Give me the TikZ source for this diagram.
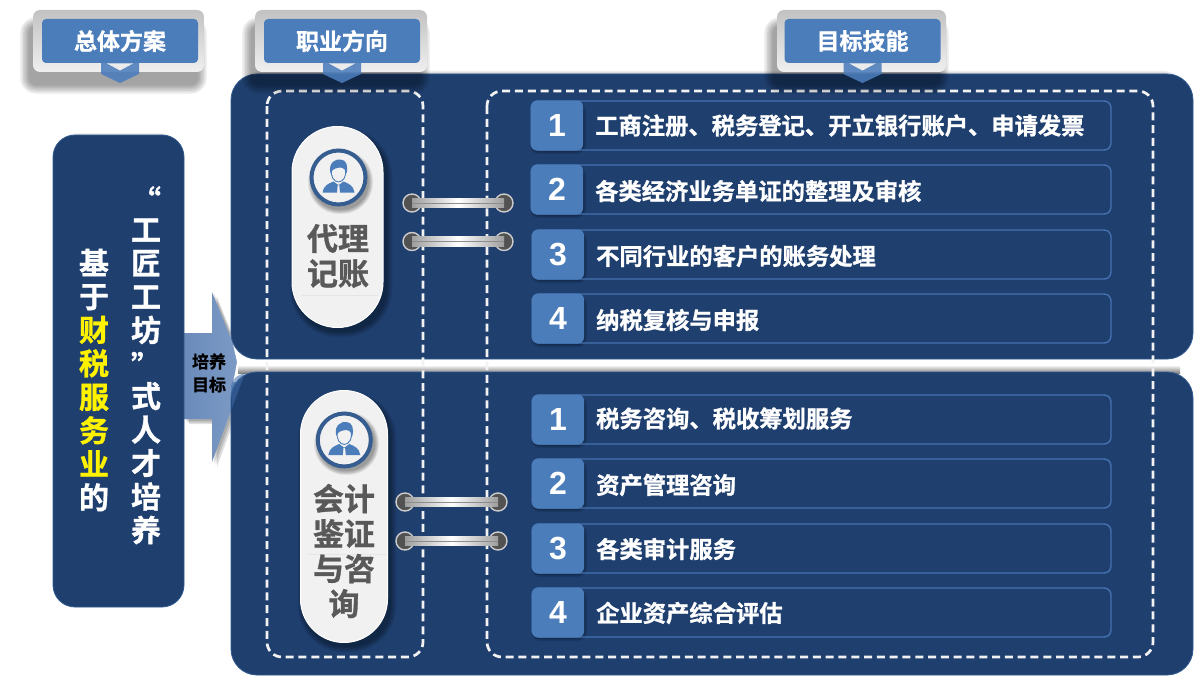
\documentclass[tikz,border=0pt]{standalone}
\usepackage{fontspec}
\setmainfont{Noto Sans CJK SC}[BoldFont={Noto Sans CJK SC Bold},BoldFeatures={FakeBold=1}]
\newfontfamily\numfont{Liberation Sans}
\usetikzlibrary{calc,shapes.misc}
\definecolor{navy}{HTML}{1F3F6F}
\definecolor{steel}{HTML}{4C7DBB}
\definecolor{edgeblue}{HTML}{3F6DA8}
\definecolor{rowedge}{HTML}{4472B0}
\definecolor{pillgray}{HTML}{F1F1F1}
\definecolor{ink}{HTML}{595959}
\definecolor{arrowL}{HTML}{6A8BBA}
\definecolor{arrowR}{HTML}{7F9CC6}
\newcommand{\softshade}[6]{% x1 y1 x2 y2 r step
  \foreach \k in {1,...,7}{
    \fill[black,opacity=0.06,rounded corners={#5+(8-\k)*#6}]
      ({#1-(8-\k)*#6},{#2-(8-\k)*#6}) rectangle ({#3+(8-\k)*#6},{#4+(8-\k)*#6});
  }}
\newcommand{\headerbtn}[5]{% name frame-x1 frame-x2 tile-centre text
  \softshade{#2-3}{27}{#3-7}{84}{6}{1.4}
  \path[rounded corners=7,top color=black!24,bottom color=black!6] (#2,10) rectangle (#3,72);
  \node[headtile] (#1) at (#4,41) {#5};
  \fill[steel,opacity=.88] ({#4-19},63) -- ({#4+19},63) -- ({#4+19},74) -- (#4,83) -- ({#4-19},74) -- cycle;
  \fill[black!8] ({#4-13},63.5) -- ({#4+13},63.5) -- (#4,70.5) -- cycle;
}
\newcommand{\itemrow}[6]{% name xleft ytop number text text-dy
  \softshade{#2+3}{#3+5}{#2+51}{#3+49}{5}{.6}
  \draw[rowedge,line width=1.4,rounded corners=7] (#2,#3) rectangle (1111,#3+49);
  \node[numtile] (#1n) at ({#2+26},{#3+24.5}) {#4};
  \node[itemtext] (#1t) at ({#2+64},{#3+26+#6}) {#5};
}
\newcommand{\personicon}[2]{% cx cy
  \begin{scope}[shift={(#1,#2)}]
    \fill[steel] (-16,15) .. controls (-15,8) and (-10,6) .. (-5,4) -- (-1,7) -- (1,7) -- (5,4) .. controls (10,6) and (15,8) .. (16,15) -- (1.5,15) -- (0.8,7.5) -- (-0.8,7.5) -- (-1.5,15) -- cycle;
    \draw[steel,line width=.9] (-7,-8) .. controls (-8,-1) and (-5,4) .. (0,4.5) .. controls (5,4) and (8,-1) .. (7,-8);
    \fill[steel] (-8,-4) .. controls (-11,-16) and (-1,-19) .. (2,-18) .. controls (8,-18) and (10,-11) .. (8,-4) .. controls (7,-8) and (5,-10) .. (1,-10) .. controls (-3,-9) and (-6,-9) .. (-8,-4) -- cycle;
  \end{scope}}
\tikzset{
  panel/.style={fill=navy,draw=edgeblue!60!navy,line width=.8,rounded corners=26},
  dashbox/.style={draw=black!5,line width=2.7,dash pattern=on 8pt off 4.8pt,rounded corners=15},
  headtile/.style={fill=steel,rounded corners=4,minimum width=156,minimum height=44,inner sep=0,text=white,font=\bfseries\fontsize{23}{23}\selectfont},
  numtile/.style={fill=steel,rounded corners=6,minimum width=52,minimum height=50,inner sep=0,text=white,font=\numfont\bfseries\fontsize{32}{32}\selectfont},
  itemtext/.style={anchor=west,inner sep=0,text=white,font=\bfseries\fontsize{23.3}{23.3}\selectfont},
  coltext/.style={inner sep=0,align=center,text=white,font=\bfseries\fontsize{30}{33.5}\selectfont},
  pilltext/.style={inner sep=0,align=center,text=ink,font=\bfseries\fontsize{31}{35}\selectfont},
  ball/.style={circle,minimum size=18,inner sep=0,fill=black!68,draw=black!20,line width=1.4},
  tubeband/.style={left color=black!38,right color=black!38,middle color=white},
  tubecore/.style={draw=black!45,line width=.9},
  pillbody/.style={rounded rectangle,fill=pillgray,draw=white,line width=1,rotate=90,inner sep=0},
  iconring/.style={circle,inner sep=0,fill=pillgray,draw=edgeblue!85!black,line width=4},
}
\begin{document}
\begin{tikzpicture}[x=1pt,y=-1pt]
\useasboundingbox (0,0) rectangle (1199,677);
\fill[white] (0,0) rectangle (1199,677);
% panel shadows (cast upward)
\softshade{245}{79}{1180}{110}{18}{1.2}
\softshade{245}{377}{1180}{400}{18}{1}
\softshade{60}{140}{177}{180}{18}{1}
% arrow and its shadow
\foreach \s in {5,3.5,2}{
  \fill[black,opacity=.12,xshift=\s pt,yshift=-\s pt]
    (212,292) -- (245,373) -- (212,462) -- (212,419) -- (184,419) -- (184,333) -- (212,333) -- cycle;
}
\path[left color=arrowL,right color=arrowR]
  (184,333) -- (212,333) -- (212,292) -- (245,373) -- (212,462) -- (212,419) -- (184,419) -- cycle;
% white flare between the two panels, over the arrow tip
\fill[white] (232,338) .. controls (234,350) and (236,356) .. (237,362) .. controls (236,368) and (235,374) .. (233,382) -- (262,382) -- (262,338) -- cycle;
\path[top color=white,bottom color=black!50] (238,365) rectangle (1180,373);
% top and bottom panels
\draw[panel] (231,74) rectangle (1193,359);
\draw[panel] (231,372) rectangle (1193,675);
\fill[edgeblue,opacity=.55] (231,386) .. controls (232,379) and (237,375) .. (245,373) -- (232,408) -- cycle;
% left panel
\draw[panel,rounded corners=22] (53,135) rectangle (184,607);
\node[coltext] (col1) at (94,380) {基\\于\\\textcolor{yellow}{财}\\\textcolor{yellow}{税}\\\textcolor{yellow}{服}\\\textcolor{yellow}{务}\\\textcolor{yellow}{业}\\的};
\node[coltext,anchor=north] (col2) at (146,186) {“\\[-4.5pt]工\\匠\\工\\坊\\[2.5pt]”\\[-3.5pt]式\\人\\才\\培\\养};
\node[inner sep=0,align=center,font=\bfseries\fontsize{17}{23}\selectfont,text=black] (goal) at (209,373) {培养\\目标};
% dashed boxes
\draw[dashbox] (267,91) rectangle (423,657);
\draw[dashbox] (487,91) rectangle (1153,657);
% pills
\softshade{296}{134}{386}{331}{42}{.9}
\node[pillbody,minimum width=201,minimum height=91] (pillA) at (337.5,227) {};
\softshade{304}{398}{390}{646}{40}{.9}
\node[pillbody,minimum width=252,minimum height=87] (pillB) at (344,516.5) {};
\draw[black!10,line width=.8] (302,295) -- (378,295);
\draw[black!10,line width=.8] (309,554) -- (386,554);
\softshade{313}{155}{368}{209}{26}{.7}
\softshade{319}{417}{374}{470}{26}{.7}
\node[iconring,minimum size=54] (iconA) at (338.5,177.5) {};
\node[iconring,minimum size=53] (iconB) at (344.3,440) {};
\personicon{338.5}{177.5}
\personicon{344.3}{440}
\node[pilltext] (labelA) at (338,256) {代理\\记账};
\node[pilltext] (labelB) at (344,551) {会计\\鉴证\\与咨\\询};
% rings
\foreach \n/\xa/\xb/\yy in {ra/412/504/203,rb/412/504/241.5,rc/405/498/502,rd/405/498/541}{
  \node[ball] (\n l) at (\xa,\yy) {};
  \node[ball] (\n r) at (\xb,\yy) {};
  \path[tubeband] ($(\n l.center)+(0,-4.6)$) rectangle ($(\n r.center)+(0,4.6)$);
  \draw[tubecore] (\n l.center) -- (\n r.center);
}
% items
\itemrow{a}{531}{101}{1}{工商注册、税务登记、开立银行账户、申请发票}{-1.5}
\itemrow{b}{531}{165}{2}{各类经济业务单证的整理及审核}{0}
\itemrow{c}{532}{230}{3}{不同行业的客户的账务处理}{0}
\itemrow{d}{532}{294}{4}{纳税复核与申报}{0}
\itemrow{e}{532}{395}{1}{税务咨询、税收筹划服务}{-2.5}
\itemrow{f}{532}{459}{2}{资产管理咨询}{0}
\itemrow{g}{532}{524}{3}{各类审计服务}{-1}
\itemrow{h}{532}{588}{4}{企业资产综合评估}{-1}
% header buttons
\headerbtn{hA}{33}{204}{120}{总体方案}
\headerbtn{hB}{255}{427}{342}{职业方向}
\headerbtn{hC}{777}{946}{862.5}{目标技能}
\end{tikzpicture}
\end{document}
